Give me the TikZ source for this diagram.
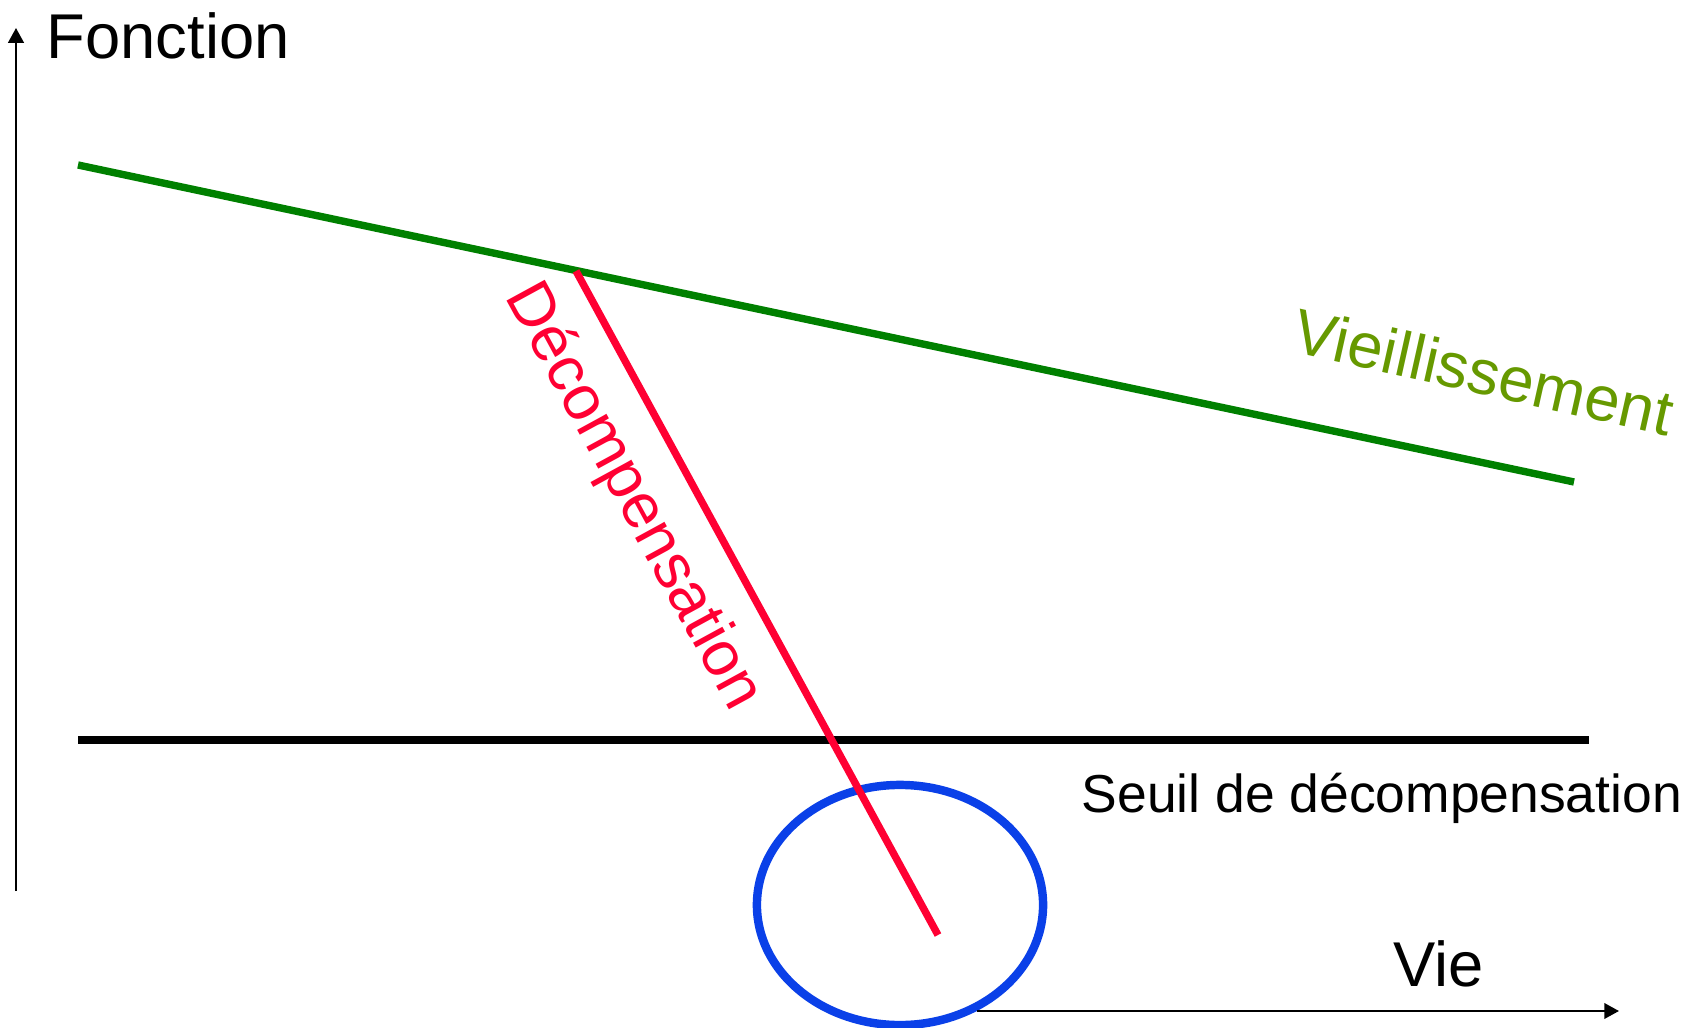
\documentclass[tikz,border=0pt]{standalone}
\usepackage{fontspec}
\setmainfont{Liberation Sans}
\usetikzlibrary{arrows.meta, shapes.geometric}
\definecolor{agegreen}{RGB}{0,128,0}
\definecolor{agetext}{RGB}{102,153,0}
\definecolor{decred}{RGB}{255,0,51}
\definecolor{zoneblue}{RGB}{10,64,232}

\begin{document}
\begin{tikzpicture}[x=0.01cm, y=-0.01cm,
    axis/.style={line width=0.7pt, -{Triangle[length=4.2pt,width=4.4pt]}},
    lbl/.style={inner sep=0pt, font=\fontsize{18}{21}\selectfont},
    smalllbl/.style={inner sep=0pt, font=\fontsize{15.2}{18}\selectfont}]

    \useasboundingbox (0,0) rectangle (1688,1028);

    % Axes end points
    \coordinate (yfoot) at (16,891);
    \coordinate (ytip) at (16,28);
    \coordinate (xfoot) at (977,1011);
    \coordinate (xtip) at (1619,1011);

    % Curve end points
    \coordinate (agestart) at (78,165);
    \coordinate (ageend) at (1574,482);
    \coordinate (decstart) at (576,271);
    \coordinate (decend) at (938,935);
    \coordinate (seuilstart) at (78,740);
    \coordinate (seuilend) at (1589,740);

    % Labels
    \node[lbl, anchor=base west] (fonction) at (46,59) {Fonction};
    \node[lbl, anchor=base west] (vie) at (1393,986) {Vie};
    \node[smalllbl, anchor=base west] (seuil) at (1081,812) {Seuil de décompensation};
    \node[lbl, text=agetext, rotate=-12.6, anchor=base] (vieil) at (1479,394) {Vieillissement};
    \node[lbl, text=decred, rotate=-61.4, anchor=base] (decomp) at (618,505) {Décompensation};

    % Ageing line and threshold
    \draw[agegreen, line width=2.1pt] (agestart) -- (ageend);
    \draw[black, line width=2.3pt] (seuilstart) -- (seuilend);

    % Zone where the threshold is crossed
    \node[draw=zoneblue, line width=2.4pt, ellipse, inner sep=0pt,
          minimum width=2.86cm, minimum height=2.4cm] (zone) at (900,905) {};

    % Decompensation line
    \draw[decred, line width=2.1pt] (decstart) -- (decend);

    % Axes
    \draw[axis] (yfoot) -- (ytip);
    \draw[axis] (xfoot) -- (xtip);

\end{tikzpicture}
\end{document}
